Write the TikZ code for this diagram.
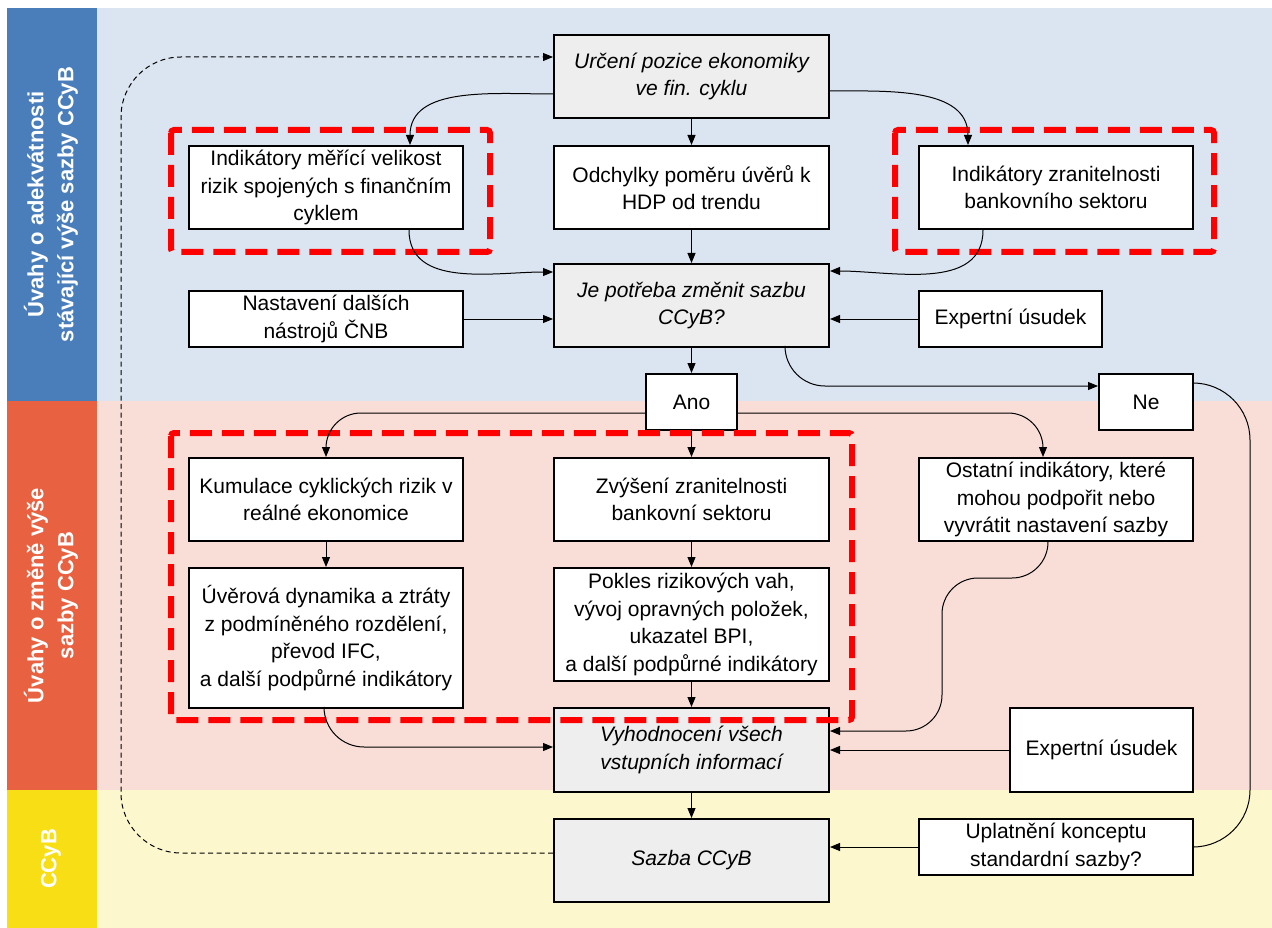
\documentclass[tikz,border=0pt]{standalone}
\usepackage{fontspec}
\setmainfont{Liberation Sans}
\usetikzlibrary{arrows.meta}

\definecolor{laneblue}{HTML}{4A7EBB}
\definecolor{bgblue}{HTML}{DBE5F1}
\definecolor{laneorange}{HTML}{E86242}
\definecolor{bgpink}{HTML}{F9DED8}
\definecolor{laneyellow}{HTML}{F8DE15}
\definecolor{bgyellow}{HTML}{FDF7CE}
\definecolor{boxgrey}{HTML}{EEEEEE}

\begin{document}
\begin{tikzpicture}[x=1pt, y=-1pt, >={Triangle[length=10pt,width=8pt]},
  box/.style={rectangle, draw, line width=2pt, fill=white, align=center, inner xsep=3pt, inner ysep=2pt,
    font=\fontsize{21}{27.5}\selectfont},
  greybox/.style={box, fill=boxgrey, font=\fontsize{21}{27.5}\selectfont\itshape},
  lane/.style={text=white, align=center, rotate=90, font=\fontsize{22}{30}\selectfont\bfseries},
  riskframe/.style={draw=red, line width=6pt, dash pattern=on 22pt off 10pt, rounded corners=3pt},
  every path/.style={line width=1pt}]
  \useasboundingbox (0,0) rectangle (1272,928);
  % Background
  \fill[laneblue] (7,8) rectangle (97,401);
  \fill[laneorange] (7,401) rectangle (97,790);
  \fill[laneyellow] (7,790) rectangle (97,928);
  \fill[bgblue] (97,8) rectangle (1272,401);
  \fill[bgpink] (97,401) rectangle (1272,790);
  \fill[bgyellow] (97,790) rectangle (1272,928);
  \node (lanetop) [lane] at (51, 204.5) {Úvahy o adekvátnosti\\stávající výše sazby CCyB};
  \node (lanemid) [lane] at (51, 595.5) {Úvahy o změně výše\\sazby CCyB};
  \node (lanebot) [lane] at (51, 859) {CCyB};
  % Nodes
  \node (urc) [greybox, minimum width=275pt, minimum height=83pt] at (691.5, 76.5) {Určení pozice ekonomiky\\ve fin. cyklu};
  \node (ind1) [box, minimum width=274pt, minimum height=83pt] at (326, 187.5) {Indikátory měřící velikost\\rizik spojených s finančním\\cyklem};
  \node (odch) [box, minimum width=275pt, minimum height=83pt] at (691.5, 187.5) {Odchylky poměru úvěrů k\\HDP od trendu};
  \node (ind2) [box, minimum width=274pt, minimum height=83pt] at (1056, 187.5) {Indikátory zranitelnosti\\bankovního sektoru};
  \node (je) [greybox, minimum width=275pt, minimum height=83pt] at (691.5, 305.5) {Je potřeba změnit sazbu\\CCyB?};
  \node (nast) [box, minimum width=274pt, minimum height=56pt] at (326, 319) {Nastavení dalších\\nástrojů ČNB};
  \node (exp1) [box, minimum width=183pt, minimum height=56pt] at (1010.5, 319) {Expertní úsudek};
  \node (ano) [box, minimum width=91pt, minimum height=56pt] at (691.5, 402) {Ano};
  \node (ne) [box, minimum width=94pt, minimum height=56pt] at (1146, 402) {Ne};
  \node (kum) [box, minimum width=274pt, minimum height=83pt] at (326, 499.5) {Kumulace cyklických rizik v\\reálné ekonomice};
  \node (zvy) [box, minimum width=275pt, minimum height=83pt] at (691.5, 499.5) {Zvýšení zranitelnosti\\bankovní sektoru};
  \node (ost) [box, minimum width=274pt, minimum height=83pt] at (1056, 499.5) {Ostatní indikátory, které\\mohou podpořit nebo\\vyvrátit nastavení sazby};
  \node (uver) [box, minimum width=274pt, minimum height=140pt] at (326, 638) {Úvěrová dynamika a ztráty\\z podmíněného rozdělení,\\převod IFC,\\a další podpůrné indikátory};
  \node (pok) [box, minimum width=275pt, minimum height=113pt] at (691.5, 624.5) {Pokles rizikových vah,\\vývoj opravných položek,\\ukazatel BPI,\\a další podpůrné indikátory};
  \node (vyh) [greybox, minimum width=275pt, minimum height=84pt] at (691.5, 750) {Vyhodnocení všech\\vstupních informací};
  \node (exp2) [box, minimum width=183pt, minimum height=84pt] at (1101.5, 750) {Expertní úsudek};
  \node (saz) [greybox, minimum width=275pt, minimum height=83pt] at (691.5, 860.5) {Sazba CCyB};
  \node (upl) [box, minimum width=274pt, minimum height=56pt] at (1056, 847) {Uplatnění konceptu\\standardní sazby?};
  \coordinate (loop) at (121, 450);
  \coordinate (rail) at (1250, 600);
  \coordinate (bend) at (942, 578);
  % Frames
  \draw[riskframe] (171,130) rectangle (490,252);
  \draw[riskframe] (895,130) rectangle (1214,252);
  \draw[riskframe] (171,433) rectangle (852,720);
  % Arrow
  \draw[->] (urc) -- (odch);
  \draw[->] (odch) -- (je);
  \draw[->] ([yshift=-17.5pt]urc.west) to[out=180, in=90] ([xshift=84pt]ind1.north);
  \draw[->] ([yshift=-14.5pt]urc.east) to[out=0, in=90] ([xshift=-88pt]ind2.north);
  \draw[->] ([xshift=83pt]ind1.south) to[out=-90, in=180] ([yshift=33.5pt]je.west);
  \draw[->] ([xshift=-73pt]ind2.south) to[out=-90, in=0] ([yshift=34.5pt]je.east);
  \draw[->] (nast.east) -- (nast.east -| je.west);
  \draw[->] (exp1.west) -- (exp1.west -| je.east);
  \draw[->] (je) -- (ano);
  \draw[->, rounded corners=40pt] ([xshift=93.5pt]je.south) |- ([yshift=16pt]ne.west);
  \draw[rounded corners=57pt] ([yshift=19pt]ne.east) -| (rail) |- (upl.east);
  \draw[->] (ano) -- (zvy);
  \draw[->, rounded corners=35pt] ([yshift=-11pt]ano.west) -| (kum.north);
  \draw[->, rounded corners=35pt] ([yshift=-11pt]ano.east) -| ([xshift=-13pt]ost.north);
  \draw[->] (kum) -- (uver);
  \draw[->] (zvy) -- (pok);
  \draw[->] (pok) -- (vyh);
  \draw[->, rounded corners=40pt] ([xshift=-2pt]uver.south) |- ([yshift=3pt]vyh.west);
  \draw[->, rounded corners=36pt] ([xshift=-8pt]ost.south) |- (bend) |- ([yshift=19pt]vyh.east);
  \draw[->] (exp2.west) -- (exp2.west -| vyh.east);
  \draw[->] (vyh) -- (saz);
  \draw[->] (upl.west) -- (upl.west -| saz.east);
  \draw[->, dash pattern=on 5pt off 3.5pt, rounded corners=60pt] ([yshift=7.5pt]saz.west) -| (loop) |- ([yshift=19.5pt]urc.west);
\end{tikzpicture}
\end{document}
